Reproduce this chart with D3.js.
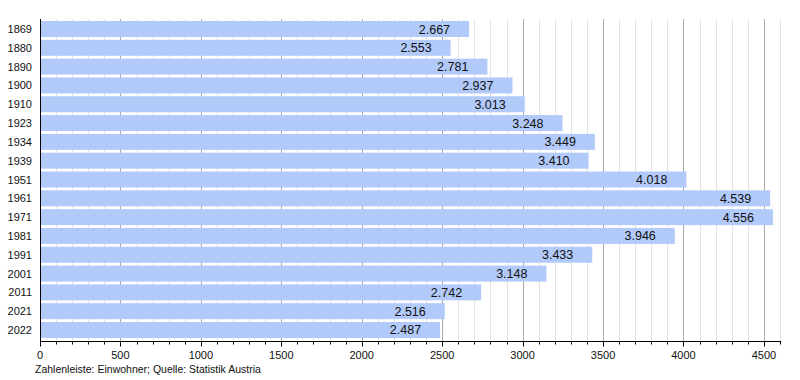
<!DOCTYPE html>
<html><head><meta charset="utf-8">
<script src="https://cdn.jsdelivr.net/npm/d3@7"></script>
<style>body{margin:0;background:#fff}svg{display:block;font-family:"Liberation Sans",Arial,sans-serif}</style>
</head><body><svg id="c" width="800" height="380"></svg>
<script>
const years = ["1869","1880","1890","1900","1910","1923","1934","1939","1951","1961","1971","1981","1991","2001","2011","2021","2022"];
const population = [2667,2553,2781,2937,3013,3248,3449,3410,4018,4539,4556,3946,3433,3148,2742,2516,2487];
const valueLabels = ["2.667","2.553","2.781","2.937","3.013","3.248","3.449","3.410","4.018","4.539","4.556","3.946","3.433","3.148","2.742","2.516","2.487"];
const majorTicks = [0,500,1000,1500,2000,2500,3000,3500,4000,4500];
const footer = "Zahlenleiste: Einwohner; Quelle: Statistik Austria";

const svg = d3.select("#c");
const x = d3.scaleLinear().domain([0,4600]).range([40,780]);
const y = d3.scaleBand().domain(years).range([19.6,339.4]).paddingInner(0.15).paddingOuter(0.075);
const axisY = 341;
const minor = d3.range(0,4601,100);

// gridlines
svg.append("g").selectAll("line").data(minor.filter(v=>v>0 && v%500!==0)).join("line")
  .attr("x1",d=>Math.round(x(d))+0.5).attr("x2",d=>Math.round(x(d))+0.5)
  .attr("y1",19).attr("y2",axisY).attr("stroke","#e2e2e2").attr("stroke-width",1);
svg.append("g").selectAll("line").data(majorTicks.filter(v=>v>0)).join("line")
  .attr("x1",d=>Math.round(x(d))+0.5).attr("x2",d=>Math.round(x(d))+0.5)
  .attr("y1",19).attr("y2",axisY).attr("stroke","#a8a8a8").attr("stroke-width",1);

// bars
svg.append("g").selectAll("rect").data(population).join("rect")
  .attr("x",x(0)).attr("y",(d,i)=>y(years[i]))
  .attr("width",d=>x(d)-x(0)).attr("height",y.bandwidth())
  .attr("fill","rgb(178,202,250)");

// value labels
svg.append("g").selectAll("text").data(population).join("text")
  .attr("x",d=>x(d)-19).attr("y",(d,i)=>y(years[i])+y.bandwidth()/2+4.5)
  .attr("text-anchor","end").attr("font-size",12.5).attr("fill","#111")
  .text((d,i)=>valueLabels[i]);

// y labels
svg.append("g").selectAll("text").data(years).join("text")
  .attr("x",32).attr("y",d=>y(d)+y.bandwidth()/2+4)
  .attr("text-anchor","end").attr("font-size",11).attr("fill","#111").text(d=>d);

// y axis line
svg.append("line").attr("x1",40.5).attr("x2",40.5).attr("y1",19).attr("y2",axisY).attr("stroke","#000");

// x axis
const ax = svg.append("g").attr("transform",`translate(0,${axisY})`);
ax.append("line").attr("x1",40).attr("x2",x(4600)+1).attr("y1",0.5).attr("y2",0.5).attr("stroke","#000");
ax.selectAll("line.minor").data(minor.filter(v=>v%500!==0)).join("line").attr("class","minor")
  .attr("x1",d=>Math.round(x(d))+0.5).attr("x2",d=>Math.round(x(d))+0.5).attr("y1",0).attr("y2",3.5).attr("stroke","#000");
ax.selectAll("line.major").data(majorTicks).join("line").attr("class","major")
  .attr("x1",d=>Math.round(x(d))+0.5).attr("x2",d=>Math.round(x(d))+0.5).attr("y1",0).attr("y2",5.5).attr("stroke","#000");
ax.selectAll("text").data(majorTicks).join("text")
  .attr("x",d=>x(d)).attr("y",18).attr("text-anchor","middle").attr("font-size",11).attr("fill","#111").text(d=>d);

svg.append("text").attr("x",35).attr("y",373).attr("font-size",10.5).attr("fill","#111").text(footer);
</script></body></html>
